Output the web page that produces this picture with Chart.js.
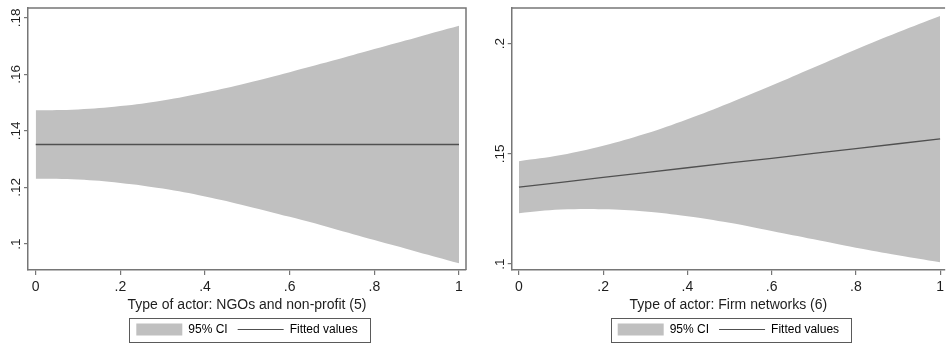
<!DOCTYPE html>
<html>
<head>
<meta charset="utf-8">
<script src="https://cdn.jsdelivr.net/npm/chart.js@4.4.1/dist/chart.umd.min.js"></script>
<style>
  html, body { margin: 0; padding: 0; background: #fff; }
  .wrap { position: relative; width: 948px; height: 347px; }
  .panel { position: absolute; top: 0; height: 347px; }
  #panel-left { left: 0; width: 476px; }
  #panel-right { left: 476px; width: 472px; }
</style>
</head>
<body>
<div class="wrap">
  <div class="panel" id="panel-left"><canvas id="chart-ngo"></canvas></div>
  <div class="panel" id="panel-right"><canvas id="chart-firm"></canvas></div>
</div>
<script>
// ── Data ───────────────────────────────────────────────────────────────────

const X_GRID = [0, 0.1, 0.2, 0.3, 0.4, 0.5, 0.6, 0.7, 0.8, 0.9, 1];

const X_TICKS       = [0, 0.2, 0.4, 0.6, 0.8, 1];
const X_TICK_LABELS = ['0', '.2', '.4', '.6', '.8', '1'];

// left panel: NGOs and non-profit (5)
const NGO_FIT   = [0.1352, 0.1352, 0.1352, 0.1352, 0.1352, 0.1352, 0.1352, 0.1352, 0.1352, 0.1352, 0.1352];
const NGO_UPPER = [0.1473, 0.1476, 0.1488, 0.1508, 0.1536, 0.1570, 0.1608, 0.1648, 0.1690, 0.1731, 0.1772];
const NGO_LOWER = [0.1231, 0.1228, 0.1216, 0.1196, 0.1168, 0.1134, 0.1096, 0.1056, 0.1014, 0.0973, 0.0932];
const NGO_Y_TICKS  = [0.10, 0.12, 0.14, 0.16, 0.18];
const NGO_Y_LABELS = ['.1', '.12', '.14', '.16', '.18'];

// right panel: Firm networks (6)
const FIRM_FIT   = [0.1349, 0.1371, 0.1393, 0.1415, 0.1437, 0.1459, 0.1480, 0.1502, 0.1524, 0.1546, 0.1568];
const FIRM_UPPER = [0.1467, 0.1495, 0.1537, 0.1591, 0.1657, 0.1731, 0.1810, 0.1892, 0.1974, 0.2052, 0.2126];
const FIRM_LOWER = [0.1231, 0.1247, 0.1249, 0.1239, 0.1217, 0.1187, 0.1150, 0.1112, 0.1074, 0.1040, 0.1008];
const FIRM_Y_TICKS  = [0.10, 0.15, 0.20];
const FIRM_Y_LABELS = ['.1', '.15', '.2'];

const LEGEND_LABELS = ['95% CI', 'Fitted values'];

// ── Style ──────────────────────────────────────────────────────────────────

const FONT  = '"Liberation Sans", Arial, Helvetica, sans-serif';
const INK   = '#1e1e1e';
const FRAME = '#767676';
const BAND  = '#c0c0c0';
const LINE  = '#505050';

Chart.defaults.font.family = FONT;
Chart.defaults.color = INK;

// ── Helpers ────────────────────────────────────────────────────────────────

const pts = ys => X_GRID.map((x, i) => ({ x, y: ys[i] }));

// top/right frame, rotated y labels (Stata style) and the legend box
const stataFrame = {
  id: 'stataFrame',
  afterDraw(chart, args, opts) {
    const { ctx, chartArea: a } = chart;
    const y = chart.scales.y;
    ctx.save();

    ctx.strokeStyle = FRAME;
    ctx.lineWidth = 1.5;
    ctx.beginPath();
    ctx.moveTo(a.left, a.top);
    ctx.lineTo(a.right, a.top);
    if (opts.right) ctx.lineTo(a.right, a.bottom);
    ctx.stroke();

    ctx.fillStyle = INK;
    ctx.font = `13.5px ${FONT}`;
    ctx.textAlign = 'center';
    ctx.textBaseline = 'alphabetic';
    y.ticks.forEach((t, i) => {
      ctx.save();
      ctx.translate(a.left - 8, y.getPixelForValue(t.value));
      ctx.rotate(-Math.PI / 2);
      ctx.fillText(opts.yLabels[i], 0, 0);
      ctx.restore();
    });

    const hb = chart.legend && chart.legend.legendHitBoxes;
    if (hb && hb.length) {
      const first = hb[0], last = hb[hb.length - 1];
      const left = Math.round(first.left - 7) + 0.5;
      const right = Math.round(last.left + last.width + 12) + 0.5;
      const top = Math.round(first.top - 6) + 0.5;
      ctx.strokeStyle = '#5a5a5a';
      ctx.lineWidth = 1;
      ctx.strokeRect(left, top, right - left, 24);
    }
    ctx.restore();
  },
};

const charts = {};

function makeChart(id, config) {
  if (charts[id]) charts[id].destroy();
  const ctx = document.getElementById(id).getContext('2d');
  charts[id] = new Chart(ctx, config);
}

function panelConfig({ fit, upper, lower, yTicks, yLabels, yMin, yMax, xMin, xMax, yWidth, padRight, frameRight, title }) {
  return {
    type: 'line',
    data: {
      datasets: [
        {
          label: LEGEND_LABELS[0] + ' upper',
          data: pts(upper),
          fill: '+1',
          backgroundColor: BAND,
          borderWidth: 0,
          pointRadius: 0,
          tension: 0.4,
        },
        {
          label: LEGEND_LABELS[0] + ' lower',
          data: pts(lower),
          fill: false,
          borderWidth: 0,
          pointRadius: 0,
          tension: 0.4,
        },
        {
          label: LEGEND_LABELS[1],
          data: pts(fit),
          fill: false,
          borderColor: LINE,
          borderWidth: 1.3,
          pointRadius: 0,
          order: -1,
        },
      ],
    },
    options: {
      responsive: true, maintainAspectRatio: false,
      animation: false,
      devicePixelRatio: 1,
      layout: { padding: { top: 8, right: padRight, bottom: 1.5, left: 0 } },
      plugins: {
        tooltip: { enabled: false },
        legend: {
          position: 'bottom',
          fullSize: false,
          onClick: null,
          labels: {
            usePointStyle: true,
            pointStyleWidth: 46,
            boxHeight: 12,
            padding: 10,
            color: INK,
            font: { size: 12 },
            generateLabels: () => [
              { text: LEGEND_LABELS[0], fillStyle: BAND, strokeStyle: BAND, lineWidth: 0, pointStyle: 'rect', hidden: false, datasetIndex: 0 },
              { text: LEGEND_LABELS[1], fillStyle: 'rgba(0,0,0,0)', strokeStyle: LINE, lineWidth: 1, pointStyle: 'line', hidden: false, datasetIndex: 2 },
            ],
          },
        },
        stataFrame: { right: frameRight, yLabels },
      },
      scales: {
        x: {
          type: 'linear', position: 'bottom',
          min: xMin, max: xMax,
          afterBuildTicks: s => { s.ticks = X_TICKS.map(v => ({ value: v })); },
          afterFit: s => { s.height = 43.5; },
          ticks: {
            autoSkip: false, maxRotation: 0, padding: 4,
            color: INK, font: { size: 14 },
            callback: (v, i) => X_TICK_LABELS[i],
          },
          grid: { display: true, drawOnChartArea: false, drawTicks: true, tickLength: 5, color: FRAME, lineWidth: 1.2 },
          border: { display: true, color: FRAME, width: 1.5 },
          title: { display: true, text: title, color: INK, font: { size: 14 }, padding: { top: 0, bottom: 0 } },
        },
        y: {
          type: 'linear', position: 'left',
          min: yMin, max: yMax,
          afterBuildTicks: s => { s.ticks = yTicks.map(v => ({ value: v })); },
          afterFit: s => { s.width = yWidth; },
          ticks: { display: false },
          grid: { display: true, drawOnChartArea: false, drawTicks: true, tickLength: 4, color: FRAME, lineWidth: 1.2 },
          border: { display: true, color: FRAME, width: 1.5 },
        },
      },
    },
    plugins: [stataFrame],
  };
}

// ── Bootstrap ──────────────────────────────────────────────────────────────

makeChart('chart-ngo', panelConfig({
  fit: NGO_FIT, upper: NGO_UPPER, lower: NGO_LOWER,
  yTicks: NGO_Y_TICKS, yLabels: NGO_Y_LABELS,
  yMin: 0.0908, yMax: 0.1835,
  xMin: -0.0182, xMax: 1.0165,
  yWidth: 28, padRight: 10, frameRight: true,
  title: 'Type of actor: NGOs and non-profit (5)',
}));

makeChart('chart-firm', panelConfig({
  fit: FIRM_FIT, upper: FIRM_UPPER, lower: FIRM_LOWER,
  yTicks: FIRM_Y_TICKS, yLabels: FIRM_Y_LABELS,
  yMin: 0.0973, yMax: 0.2162,
  xMin: -0.0172, xMax: 1.0118,
  yWidth: 35.7, padRight: 0, frameRight: false,
  title: 'Type of actor: Firm networks (6)',
}));
</script>
</body>
</html>
